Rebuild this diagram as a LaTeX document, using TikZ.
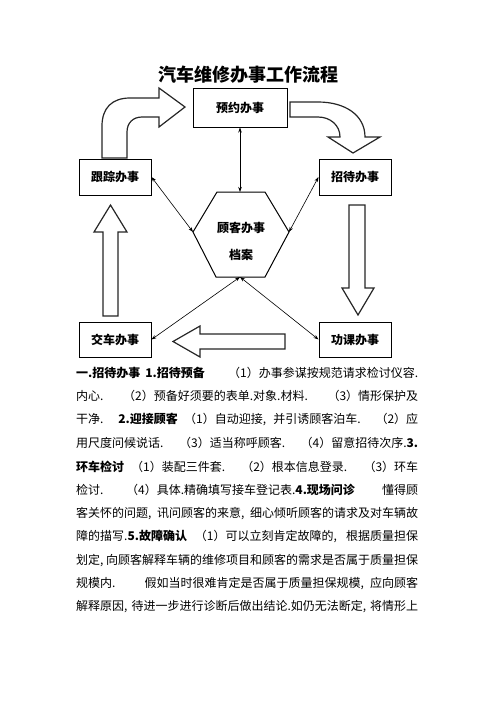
\documentclass[tikz,border=0pt]{standalone}
\usepackage{fontspec}
\setmainfont{Noto Sans CJK SC}
\usetikzlibrary{arrows.meta}

\newcommand{\tline}[1]{\makebox[342pt][s]{#1}}

\begin{document}
\begin{tikzpicture}[x=1pt, y=-1pt,
    box/.style={draw, line width=1pt, minimum width=72pt, minimum height=36pt,
      inner sep=2pt, font=\bfseries\fontsize{12}{14}\selectfont},
    link/.style={line width=0.6pt, {Stealth[length=5pt,width=3.5pt]}-{Stealth[length=5pt,width=3.5pt]}},
    bigarrow/.style={draw=black!85, line width=1.2pt, fill=white, line join=miter},
    para/.style={anchor=west, inner sep=0pt, font=\fontsize{12}{14}\selectfont}]
  \useasboundingbox (0,0) rectangle (496,702);

  \node[font=\bfseries\fontsize{18}{20}\selectfont] (title) at (248,75) {汽车维修办事工作流程};

  % the five stations
  \node[box, minimum width=94pt, minimum height=39pt] (yuyue) at (240,107.5) {预约办事};
  \node[box] (genzong) at (115,177) {跟踪办事};
  \node[box] (zhaodai) at (355,177) {招待办事};
  \node[box, minimum height=35pt] (jiaoche) at (115,339.5) {交车办事};
  \node[box, minimum height=35pt] (gongke) at (355,339.5) {功课办事};

  % customer file in the middle
  \draw[line width=1pt] (217,192) -- (265,192) -- (289,232) -- (265,277)
    -- (216,277) -- (193,232) -- cycle;
  \coordinate (hexN) at (240,192);
  \coordinate (hexS) at (240,277);
  \coordinate (hexW) at (193,232);
  \coordinate (hexE) at (289,232);
  \node[align=center, font=\bfseries\fontsize{12}{27}\selectfont] (dangan) at (241,241.5) {顾客办事\\档案};

  \draw[link] (yuyue) -- (hexN);
  \draw[link] (genzong.east) -- (hexW);
  \draw[link] (zhaodai.west) -- (hexE);
  \draw[link] (hexS) -- (jiaoche.east);
  \draw[link] (hexS) -- (gongke.west);

  % block arrows round the loop
  \draw[bigarrow] (102,158) -- (102,126) .. controls (102,108) and (112,98) .. (130,98)
    -- (159,98) -- (159,88) -- (185,107) -- (159,127) -- (159,117) -- (142,117)
    .. controls (133,117) and (127,123) .. (127,132) -- (127,158) -- cycle;
  \draw[bigarrow] (290,102) -- (318,102) .. controls (345,102) and (365,115) .. (365,137)
    -- (380,137) -- (353,153) -- (328,137) -- (340,137)
    .. controls (340,125) and (330,117) .. (318,117) -- (290,117) -- cycle;
  \draw[bigarrow] (349,205) -- (365,205) -- (365,288) -- (374,288) -- (358,315)
    -- (342,288) -- (349,288) -- cycle;
  \draw[bigarrow] (285,334) -- (200,334) -- (200,326) -- (173,341.5) -- (200,357)
    -- (200,349) -- (285,349) -- cycle;
  \draw[bigarrow] (103,316) -- (103,232) -- (94,232) -- (110.5,205) -- (127,232)
    -- (118,232) -- (118,316) -- cycle;

  % text below
  \node[para] (l1) at (76,373) {\tline{\textbf{一.招待办事\hspace{5pt}1.招待预备} （1）办事参谋按规范请求检讨仪容.}};
  \node[para] (l2) at (76,396.4) {\tline{内心. （2）预备好须要的表单.对象.材料. （3）情形保护及}};
  \node[para] (l3) at (76,419.8) {\tline{干净. \textbf{2.迎接顾客} （1）自动迎接, 并引诱顾客泊车. （2）应}};
  \node[para] (l4) at (76,443.2) {\tline{用尺度问候说话. （3）适当称呼顾客. （4）留意招待次序.\textbf{3.}}};
  \node[para] (l5) at (76,466.6) {\tline{\textbf{环车检讨} （1）装配三件套. （2）根本信息登录. （3）环车}};
  \node[para] (l6) at (76,490) {\tline{检讨. （4）具体.精确填写接车登记表.\textbf{4.现场问诊} \ \ 懂得顾}};
  \node[para] (l7) at (76,513.4) {\tline{客关怀的问题, 讯问顾客的来意, 细心倾听顾客的请求及对车辆故}};
  \node[para] (l8) at (76,536.8) {\tline{障的描写.\textbf{5.故障确认} （1）可以立刻肯定故障的, 根据质量担保}};
  \node[para] (l9) at (76,560.2) {\tline{划定, 向顾客解释车辆的维修项目和顾客的需求是否属于质量担保}};
  \node[para] (l10) at (76,583.6) {\tline{规模内. \ \ \ 假如当时很难肯定是否属于质量担保规模, 应向顾客}};
  \node[para] (l11) at (76,607) {\tline{解释原因, 待进一步进行诊断后做出结论.如仍无法断定, 将情形上}};
\end{tikzpicture}
\end{document}
